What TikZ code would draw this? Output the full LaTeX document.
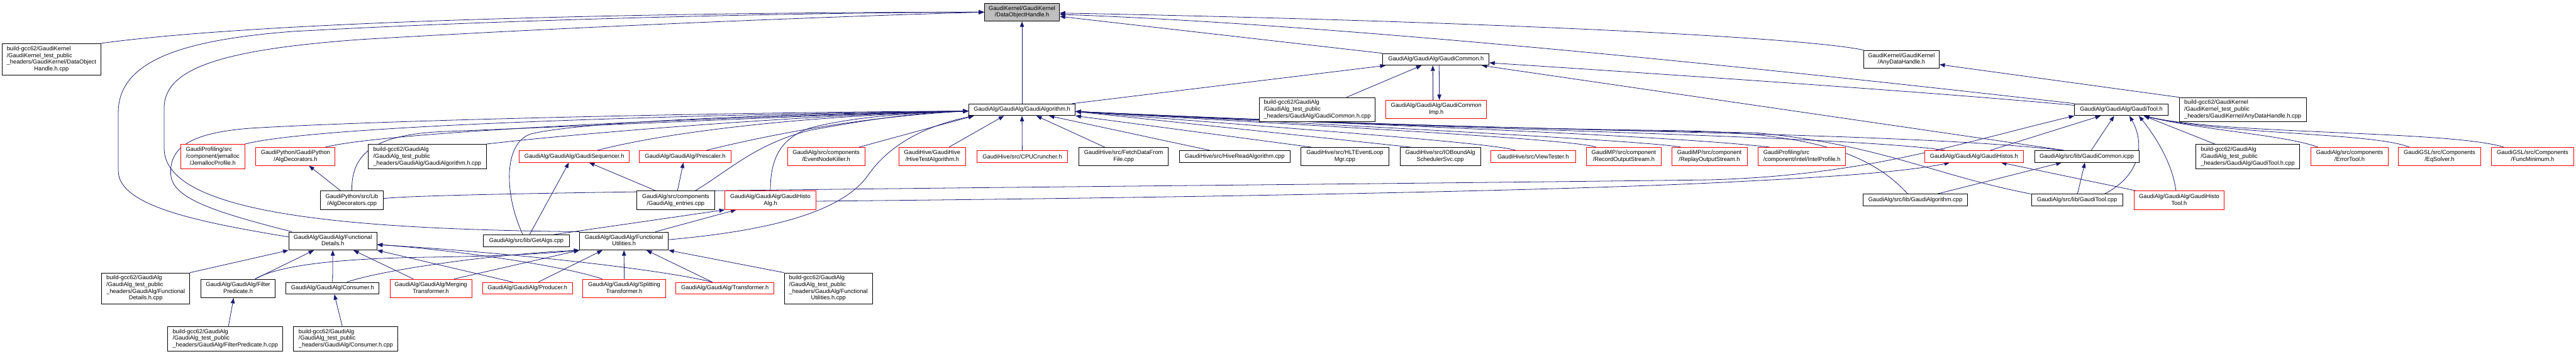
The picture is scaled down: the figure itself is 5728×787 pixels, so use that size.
\documentclass[tikz,border=0pt]{standalone}
\usepackage{fontspec}
\setmainfont{Liberation Sans}
\usetikzlibrary{arrows.meta}
\pgfdeclarelayer{background}
\pgfsetlayers{background,main}
\definecolor{edgec}{RGB}{25,25,112}
\definecolor{rootfill}{RGB}{191,191,191}
\newcommand{\lbl}[2]{\begin{tabular}{@{}l@{}}#1\\\multicolumn{1}{@{}c@{}}{#2}\end{tabular}}
\tikzset{
 blk/.style={draw=black, fill=white, line width=1.3pt, inner sep=0pt, font=\fontsize{13}{15}\selectfont},
 redb/.style={blk, draw=red},
 rootb/.style={blk, fill=rootfill},
 dep/.style={draw=edgec, line width=1.1pt, -{Triangle[length=12pt,width=9pt]}}
}
\begin{document}
\begin{tikzpicture}[x=1pt,y=-1pt]
\useasboundingbox (0,0) rectangle (5728,787);
% ---- nodes ----
\node[rootb, minimum width=167pt, minimum height=40pt] (doh) at (2272.5,27) {\lbl{GaudiKernel/GaudiKernel}{/DataObjectHandle.h}};
\node[blk, minimum width=219pt, minimum height=70pt] (dohcpp) at (114.5,132) {\lbl{build-gcc62/GaudiKernel\\/GaudiKernel\_test\_public\\\_headers/GaudiKernel/DataObject}{Handle.h.cpp}};
\node[redb, minimum width=142pt, minimum height=55pt] (jemalloc) at (473,348.5) {\lbl{GaudiProfiling/src\\/component/jemalloc}{/JemallocProfile.h}};
\node[redb, minimum width=176pt, minimum height=40pt] (algdech) at (657,348) {\lbl{GaudiPython/GaudiPython}{/AlgDecorators.h}};
\node[blk, minimum width=262pt, minimum height=55pt] (gahcpp) at (950,348.5) {\lbl{build-gcc62/GaudiAlg\\/GaudiAlg\_test\_public}{\_headers/GaudiAlg/GaudiAlgorithm.h.cpp}};
\node[blk, minimum width=139pt, minimum height=41pt] (algdeccpp) at (782.5,445.5) {\lbl{GaudiPython/src/Lib}{/AlgDecorators.cpp}};
\node[blk, minimum width=196pt, minimum height=40pt] (fdh) at (740,536) {\lbl{GaudiAlg/GaudiAlg/Functional}{Details.h}};
\node[blk, minimum width=196pt, minimum height=69pt] (fdhcpp) at (324,641.5) {\lbl{build-gcc62/GaudiAlg\\/GaudiAlg\_test\_public\\\_headers/GaudiAlg/Functional}{Details.h.cpp}};
\node[blk, minimum width=165pt, minimum height=41pt] (filterh) at (529.5,641.5) {\lbl{GaudiAlg/GaudiAlg/Filter}{Predicate.h}};
\node[blk, minimum width=207pt, minimum height=26pt] (consumerh) at (739.5,641) {GaudiAlg/GaudiAlg/Consumer.h};
\node[redb, minimum width=182pt, minimum height=41pt] (mergingh) at (958,641.5) {\lbl{GaudiAlg/GaudiAlg/Merging}{Transformer.h}};
\node[redb, minimum width=200pt, minimum height=26pt] (producerh) at (1173,641) {GaudiAlg/GaudiAlg/Producer.h};
\node[redb, minimum width=184pt, minimum height=41pt] (splittingh) at (1388,641.5) {\lbl{GaudiAlg/GaudiAlg/Splitting}{Transformer.h}};
\node[redb, minimum width=218pt, minimum height=26pt] (transformerh) at (1612,641) {GaudiAlg/GaudiAlg/Transformer.h};
\node[blk, minimum width=196pt, minimum height=69pt] (fuhcpp) at (1842,641.5) {\lbl{build-gcc62/GaudiAlg\\/GaudiAlg\_test\_public\\\_headers/GaudiAlg/Functional}{Utilities.h.cpp}};
\node[blk, minimum width=256pt, minimum height=55pt] (filtercpp) at (501,753.5) {\lbl{build-gcc62/GaudiAlg\\/GaudiAlg\_test\_public}{\_headers/GaudiAlg/FilterPredicate.h.cpp}};
\node[blk, minimum width=232pt, minimum height=55pt] (consumercpp) at (769,753.5) {\lbl{build-gcc62/GaudiAlg\\/GaudiAlg\_test\_public}{\_headers/GaudiAlg/Consumer.h.cpp}};
\node[blk, minimum width=191pt, minimum height=26pt] (getalgs) at (1170.5,535.5) {GaudiAlg/src/lib/GetAlgs.cpp};
\node[blk, minimum width=173pt, minimum height=41pt] (entries) at (1502.5,445.5) {\lbl{GaudiAlg/src/components}{/GaudiAlg\_entries.cpp}};
\node[redb, minimum width=202pt, minimum height=41pt] (histoalgh) at (1713,445.5) {\lbl{GaudiAlg/GaudiAlg/GaudiHisto}{Alg.h}};
\node[blk, minimum width=197pt, minimum height=40pt] (fuh) at (1387.5,536) {\lbl{GaudiAlg/GaudiAlg/Functional}{Utilities.h}};
\node[blk, minimum width=237pt, minimum height=26pt] (gah) at (2272.5,244) {GaudiAlg/GaudiAlg/GaudiAlgorithm.h};
\node[redb, minimum width=244pt, minimum height=26pt] (seqh) at (1277,348) {GaudiAlg/GaudiAlg/GaudiSequencer.h};
\node[redb, minimum width=203pt, minimum height=26pt] (prescalerh) at (1523.5,348) {GaudiAlg/GaudiAlg/Prescaler.h};
\node[redb, minimum width=172pt, minimum height=40pt] (nodekiller) at (1837,348) {\lbl{GaudiAlg/src/components}{/EventNodeKiller.h}};
\node[redb, minimum width=148pt, minimum height=40pt] (hivetest) at (2073,348) {\lbl{GaudiHive/GaudiHive}{/HiveTestAlgorithm.h}};
\node[redb, minimum width=202pt, minimum height=26pt] (cpucruncher) at (2273,348) {GaudiHive/src/CPUCruncher.h};
\node[blk, minimum width=199pt, minimum height=40pt] (fetchdata) at (2498.5,348) {\lbl{GaudiHive/src/FetchDataFrom}{File.cpp}};
\node[blk, minimum width=247pt, minimum height=26pt] (hiveread) at (2745.5,348) {GaudiHive/src/HiveReadAlgorithm.cpp};
\node[blk, minimum width=197pt, minimum height=40pt] (hltevent) at (2990.5,348) {\lbl{GaudiHive/src/HLTEventLoop}{Mgr.cpp}};
\node[blk, minimum width=179pt, minimum height=40pt] (iobound) at (3202.5,348) {\lbl{GaudiHive/src/IOBoundAlg}{SchedulerSvc.cpp}};
\node[blk, minimum width=236pt, minimum height=26pt] (gch) at (3193,132) {GaudiAlg/GaudiAlg/GaudiCommon.h};
\node[blk, minimum width=258pt, minimum height=54pt] (gchcpp) at (2929,244) {\lbl{build-gcc62/GaudiAlg\\/GaudiAlg\_test\_public}{\_headers/GaudiAlg/GaudiCommon.h.cpp}};
\node[redb, minimum width=223pt, minimum height=41pt] (gcimp) at (3193.5,243.5) {\lbl{GaudiAlg/GaudiAlg/GaudiCommon}{Imp.h}};
\node[blk, minimum width=168pt, minimum height=40pt] (anydh) at (4228,132) {\lbl{GaudiKernel/GaudiKernel}{/AnyDataHandle.h}};
\node[redb, minimum width=188pt, minimum height=26pt] (viewtester) at (3409,348) {GaudiHive/src/ViewTester.h};
\node[redb, minimum width=167pt, minimum height=40pt] (recordos) at (3610.5,348) {\lbl{GaudiMP/src/component}{/RecordOutputStream.h}};
\node[redb, minimum width=168pt, minimum height=40pt] (replayos) at (3801,348) {\lbl{GaudiMP/src/component}{/ReplayOutputStream.h}};
\node[redb, minimum width=195pt, minimum height=40pt] (intelprof) at (4006.5,348) {\lbl{GaudiProfiling/src}{/component/intel/IntelProfile.h}};
\node[redb, minimum width=219pt, minimum height=26pt] (histosh) at (4389.5,348) {GaudiAlg/GaudiAlg/GaudiHistos.h};
\node[blk, minimum width=232pt, minimum height=26pt] (gacpp) at (4259,445) {GaudiAlg/src/lib/GaudiAlgorithm.cpp};
\node[blk, minimum width=208pt, minimum height=26pt] (gth) at (4717,244) {GaudiAlg/GaudiAlg/GaudiTool.h};
\node[blk, minimum width=282pt, minimum height=54pt] (anydhcpp) at (4987,244) {\lbl{build-gcc62/GaudiKernel\\/GaudiKernel\_test\_public}{\_headers/GaudiKernel/AnyDataHandle.h.cpp}};
\node[blk, minimum width=232pt, minimum height=26pt] (gcicpp) at (4640,348) {GaudiAlg/src/lib/GaudiCommon.icpp};
\node[blk, minimum width=230pt, minimum height=55pt] (gthcpp) at (4998,348.5) {\lbl{build-gcc62/GaudiAlg\\/GaudiAlg\_test\_public}{\_headers/GaudiAlg/GaudiTool.h.cpp}};
\node[redb, minimum width=173pt, minimum height=40pt] (errortool) at (5224.5,348) {\lbl{GaudiAlg/src/components}{/ErrorTool.h}};
\node[redb, minimum width=183pt, minimum height=40pt] (eqsolver) at (5424.5,348) {\lbl{GaudiGSL/src/Components}{/EqSolver.h}};
\node[redb, minimum width=183pt, minimum height=40pt] (funcmin) at (5631.5,348) {\lbl{GaudiGSL/src/Components}{/FuncMinimum.h}};
\node[blk, minimum width=203pt, minimum height=26pt] (gtcpp) at (4618.5,445) {GaudiAlg/src/lib/GaudiTool.cpp};
\node[redb, minimum width=201pt, minimum height=41pt] (histotoolh) at (4845.5,445.5) {\lbl{GaudiAlg/GaudiAlg/GaudiHisto}{Tool.h}};
\begin{pgfonlayer}{background}
% ---- edges into DataObjectHandle.h ----
\draw[dep] (dohcpp.north east) .. controls (600,45) and (1500,27) .. (doh.west);
\draw[dep] ([yshift=9pt]fdh.west) .. controls (450,495) and (263,460) .. (263,380) -- (263,250) .. controls (263,130) and (420,88) .. (650,70) .. controls (1150,42) and (1800,28) .. (doh.west);
\draw[dep] (fuh.north west) .. controls (800,510) and (365,480) .. (365,330) -- (365,240) .. controls (365,150) and (500,110) .. (800,88) .. controls (1300,58) and (1900,35) .. (doh.west);
\draw[dep] (gah.north) -- (doh.south);
\draw[dep] (gch) -- (doh);
\draw[dep] (anydh.north west) .. controls (4000,80) and (3200,45) .. ([yshift=-2pt]doh.east);
\draw[dep] (gth.north west) .. controls (4000,160) and (3000,55) .. ([yshift=-5pt]doh.east);
% ---- edges into GaudiCommon.h ----
\draw[dep] (gah) -- (gch);
\draw[dep] (gchcpp) -- (gch);
\draw[dep] ([xshift=-7pt]gcimp.north) -- ([xshift=-7pt]gch.south);
\draw[dep] ([xshift=7pt]gch.south) -- ([xshift=7pt]gcimp.north);
\draw[dep] (gth) .. controls (4300,205) and (3700,165) .. (gch);
\draw[dep] ([xshift=-50pt]gcicpp.north) -- ([xshift=-17pt]gch.south east);
% ---- AnyDataHandle.h ----
\draw[dep] (anydhcpp.north west) -- (anydh);
% ---- edges into GaudiAlgorithm.h, left ----
\draw[dep] (jemalloc.north east) .. controls (700,280) and (1500,255) .. ([yshift=-3pt]gah.west);
\draw[dep] ([xshift=66pt]algdech.north) .. controls (850,295) and (1500,262) .. ([yshift=-3pt]gah.west);
\draw[dep] (algdeccpp.north) .. controls (780,330) and (850,297) .. (1000,292) .. controls (1500,272) and (1900,252) .. ([yshift=-3pt]gah.west);
\draw[dep] (gahcpp.north east) .. controls (1300,295) and (1800,255) .. ([yshift=-3pt]gah.west);
\draw[dep] ([xshift=-91pt]fdh.north) .. controls (470,470) and (385,440) .. (380,390) .. controls (375,330) and (420,295) .. (560,285) .. controls (900,265) and (1700,249) .. ([yshift=-3pt]gah.west);
\draw[dep] ([xshift=-8pt]getalgs.north) .. controls (1120,430) and (1120,318) .. (1180,298) .. controls (1300,268) and (1800,252) .. ([yshift=-3pt]gah.west);
\draw[dep] ([xshift=51pt]seqh.north) .. controls (1500,290) and (1800,258) .. ([yshift=-3pt]gah.west);
\draw[dep] ([xshift=47pt]prescalerh.north) .. controls (1750,290) and (1950,258) .. ([yshift=-3pt]gah.west);
\draw[dep] ([xshift=43pt]entries.north) .. controls (1620,380) and (1680,320) .. (1800,290) .. controls (1950,262) and (2050,250) .. ([yshift=-3pt]gah.west);
\draw[dep] (histoalgh.north) .. controls (1713,360) and (1730,310) .. (1800,285) .. controls (1900,258) and (2050,250) .. ([yshift=-3pt]gah.west);
\draw[dep] ([yshift=3pt]fuh.east) .. controls (1750,510) and (1880,460) .. (1930,390) .. controls (1985,310) and (2080,275) .. ([xshift=12pt]gah.south west);
\draw[dep] ([xshift=73pt]nodekiller.north) -- ([xshift=12pt]gah.south west);
% ---- bottom ----
\draw[dep] ([xshift=37pt]hivetest.north) -- ([xshift=-40pt]gah.south);
\draw[dep] (cpucruncher.north) -- (gah.south);
\draw[dep] ([xshift=-42pt]fetchdata.north) -- ([xshift=32pt]gah.south);
\draw[dep] ([xshift=-55pt]hiveread.north) -- ([xshift=60pt]gah.south);
\draw[dep] ([xshift=-74pt]hltevent.north) -- (gah.south east);
\draw[dep] ([xshift=-65pt]iobound.north) -- ([yshift=-4pt]gah.east);
% ---- right bundle ----
\draw[dep] ([xshift=-39pt]viewtester.north) .. controls (3320,318) and (2900,288) .. ([yshift=-4pt]gah.east);
\draw[dep] ([xshift=-61pt]recordos.north) .. controls (3500,310) and (3000,284) .. ([yshift=-4pt]gah.east);
\draw[dep] ([xshift=-63pt]replayos.north) .. controls (3680,315) and (3100,284) .. ([yshift=-4pt]gah.east);
\draw[dep] ([xshift=-71pt]intelprof.north) .. controls (3700,300) and (3000,276) .. ([yshift=-4pt]gah.east);
\draw[dep] ([xshift=-64pt]histosh.north) .. controls (4100,300) and (3000,282) .. ([yshift=-4pt]gah.east);
\draw[dep] ([xshift=-17pt]gacpp.north) .. controls (4150,330) and (4000,293) .. (3700,290) .. controls (3200,284) and (2700,262) .. ([yshift=-4pt]gah.east);
\draw[dep] (gtcpp.north west) .. controls (4300,390) and (4180,320) .. (3900,295) .. controls (3400,288) and (2800,268) .. ([yshift=-4pt]gah.east);
\draw[dep] ([xshift=-52pt]gcicpp.north) .. controls (4200,290) and (3300,295) .. ([yshift=-4pt]gah.east);
% ---- GaudiTool.h ----
\draw[dep] ([yshift=4pt]algdeccpp.east) .. controls (1000,425) and (2500,416) .. (3800,400) .. controls (4150,390) and (4350,320) .. (gth.south west);
\draw[dep] ([xshift=36pt]histosh.north) -- ([xshift=-46pt]gth.south);
\draw[dep] ([xshift=10pt]gcicpp.north) -- ([xshift=-16pt]gth.south);
\draw[dep] ([xshift=61pt]gtcpp.north) .. controls (4760,390) and (4770,320) .. ([xshift=18pt]gth.south);
\draw[dep] ([xshift=-7pt]histotoolh.north) .. controls (4830,360) and (4790,300) .. ([xshift=39pt]gth.south);
\draw[dep] ([xshift=-73pt]gthcpp.north) -- ([xshift=50pt]gth.south);
\draw[dep] ([xshift=-70pt]errortool.north) .. controls (5080,300) and (4900,290) .. ([xshift=50pt]gth.south);
\draw[dep] ([xshift=-67pt]eqsolver.north) .. controls (5280,295) and (4950,300) .. ([xshift=50pt]gth.south);
\draw[dep] ([xshift=-64pt]funcmin.north) .. controls (5450,290) and (4950,300) .. ([xshift=50pt]gth.south);
% ---- GaudiCommon.icpp ----
\draw[dep] ([xshift=48pt]gacpp.north) -- ([xshift=-56pt]gcicpp.south);
\draw[dep] ([xshift=1pt]gtcpp.north) -- ([xshift=-4pt]gcicpp.south);
% ---- GaudiHistos.h ----
\draw[dep] ([yshift=-2pt]histoalgh.east) .. controls (2600,440) and (3500,425) .. (3900,402) .. controls (4100,392) and (4250,380) .. ([xshift=-54pt]histosh.south);
\draw[dep] ([xshift=6pt]histotoolh.north west) -- ([xshift=60pt]histosh.south);
% ---- GaudiHistoAlg.h ----
\draw[dep] ([xshift=60pt]getalgs.north) -- (histoalgh.south west);
\draw[dep] ([xshift=70pt]fuh.north) -- ([xshift=-76pt]histoalgh.south);
% ---- Sequencer / Prescaler ----
\draw[dep] ([xshift=7pt]getalgs.north) -- ([xshift=-12pt]seqh.south);
\draw[dep] ([xshift=-44pt]entries.north) -- ([xshift=33pt]seqh.south);
\draw[dep] ([xshift=4pt]entries.north) -- ([xshift=-4pt]prescalerh.south);
% ---- AlgDecorators.h ----
\draw[dep] ([xshift=-25pt]algdeccpp.north) -- ([xshift=30pt]algdech.south);
% ---- FunctionalDetails.h ----
\draw[dep] (fdhcpp.north east) -- (fdh.south west);
\draw[dep] ([xshift=38pt]filterh.north) -- ([xshift=-42pt]fdh.south);
\draw[dep] (consumerh.north) -- (fdh.south);
\draw[dep] ([xshift=-39pt]mergingh.north) -- ([xshift=46pt]fdh.south);
\draw[dep] ([xshift=-33pt]producerh.north) -- (fdh.south east);
\draw[dep] ([xshift=-49pt]splittingh.north) .. controls (1250,590) and (1000,555) .. ([yshift=-8pt]fdh.east);
\draw[dep] ([xshift=-28pt]transformerh.north) .. controls (1450,595) and (1100,560) .. ([yshift=-8pt]fdh.east);
% ---- FunctionalUtilities.h ----
\draw[dep] ([xshift=38pt]filterh.north) .. controls (620,590) and (750,575) .. (950,572) .. controls (1100,570) and (1200,565) .. (fuh.south west);
\draw[dep] ([xshift=32pt]consumerh.north) .. controls (850,600) and (1100,565) .. (fuh.south west);
\draw[dep] ([xshift=52pt]mergingh.north) -- (fuh.south west);
\draw[dep] ([xshift=24pt]producerh.north) -- ([xshift=-48pt]fuh.south);
\draw[dep] (splittingh.north) -- (fuh.south);
\draw[dep] ([xshift=-28pt]transformerh.north) -- ([xshift=50pt]fuh.south);
\draw[dep] (fuhcpp.north west) -- (fuh.south east);
% ---- bottom files ----
\draw[dep] ([xshift=7pt]filtercpp.north) -- ([xshift=-10pt]filterh.south);
\draw[dep] ([xshift=-8pt]consumercpp.north) -- ([xshift=4pt]consumerh.south);
\end{pgfonlayer}
\end{tikzpicture}
\end{document}
